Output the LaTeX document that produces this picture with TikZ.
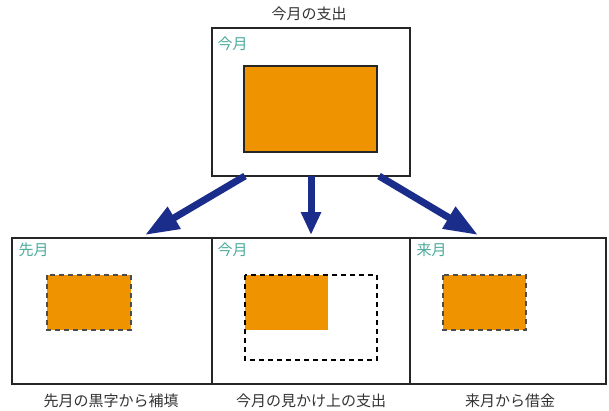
\documentclass[tikz,border=0pt]{standalone}
\usepackage{fontspec}
\setmainfont{Noto Sans CJK JP}
\usetikzlibrary{arrows.meta}
\definecolor{orng}{HTML}{F09300}
\definecolor{tealtxt}{HTML}{4AAA9A}
\definecolor{navy}{HTML}{1B2D8A}
\begin{document}
\begin{tikzpicture}[x=1pt,y=-1pt,
  frame/.style={draw=black!85,line width=2pt},
  dashbox/.style={draw=black!70,line width=1.6pt,dash pattern=on 5pt off 4pt},
  lbl/.style={font=\fontsize{15}{17}\selectfont,text=black!80},
  mon/.style={font=\fontsize{15}{17}\selectfont,text=tealtxt,anchor=west},
  bigarrow/.style={draw=navy,line width=7pt,-{Triangle[length=34pt,width=24pt]}},
  midarrow/.style={draw=navy,line width=7pt,-{Triangle[length=23pt,width=19pt]}}]
\useasboundingbox (0,0) rectangle (609,410);
% top
\node[lbl] (title) at (309,14) {今月の支出};
\draw[frame] (212,28) rectangle (410,176);
\coordinate (tl) at (245,176);
\coordinate (tm) at (311,176);
\coordinate (tr) at (379,176);
\node[mon] (m0) at (214,44) {今月};
\draw[fill=orng,draw=black!85,line width=2pt] (244,66) rectangle (377,152);
% bottom frames
\draw[frame] (12,238) rectangle (212,384);
\draw[frame] (212,238) rectangle (410,384);
\draw[frame] (410,238) rectangle (606,384);
\coordinate (bl) at (145,235);
\coordinate (bm) at (311,235);
\coordinate (br) at (478,235);
\node[mon] (m1) at (15,250) {先月};
\node[mon] (m2) at (214,250) {今月};
\node[mon] (m3) at (413,250) {来月};
% left
\fill[orng] (47,275) rectangle (131,330);
\draw[dashbox] (47,275) rectangle (131,330);
% middle
\fill[orng] (245,275) rectangle (328,330);
\draw[dashbox,draw=black] (245,275) rectangle (377,360);
% right
\fill[orng] (443,275) rectangle (526,330);
\draw[dashbox] (443,275) rectangle (526,330);
% labels
\node[lbl] (c1) at (111,401) {先月の黒字から補填};
\node[lbl] (c2) at (311,401) {今月の見かけ上の支出};
\node[lbl] (c3) at (510,401) {来月から借金};
% arrows
\draw[bigarrow] (tl) -- (bl);
\draw[midarrow] (tm) -- (bm);
\draw[bigarrow] (tr) -- (br);
\end{tikzpicture}
\end{document}
